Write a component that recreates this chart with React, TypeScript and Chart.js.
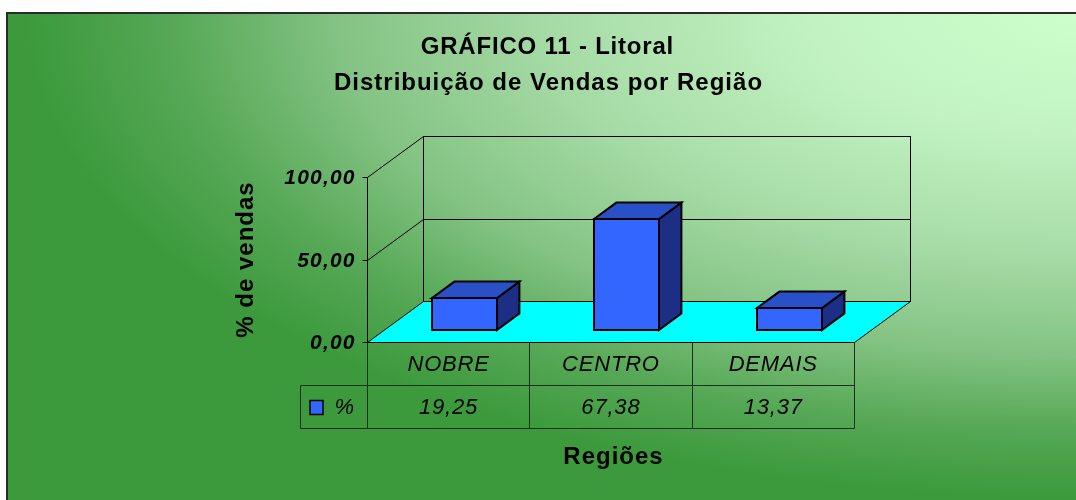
import React, { useEffect, useRef } from 'react';
import { Chart, registerables } from 'chart.js';

Chart.register(...registerables);

// ---- data ----
const titleLines = ['GRÁFICO 11 - Litoral', 'Distribuição de Vendas por Região'];
const categories = ['NOBRE', 'CENTRO', 'DEMAIS'];
const seriesName = '%';
const values = [19.25, 67.38, 13.37];
const yTickValues = [0, 50, 100];
const yTickLabels = ['0,00', '50,00', '100,00'];
const yAxisTitle = '% de vendas';
const xAxisTitle = 'Regiões';

const fmt = (v: number) => v.toFixed(2).replace('.', ',');

// ---- style ----
const FONT = '"Liberation Sans", Arial, sans-serif';
const DX = 56;
const DY = 41;
const BAR_F0 = 0.29;
const BAR_F1 = 0.69;
const BAR_FRONT = '#3366ff';
const BAR_TOP = '#2a50c8';
const BAR_SIDE = '#1c2f85';
const FLOOR = '#00ffff';
const LINE = '#000000';
const TABLE_LINE = '#1f2f1f';

function drawText(ctx: CanvasRenderingContext2D, s: string, x: number, y: number, font: string, align: CanvasTextAlign, spacing: number) {
  ctx.font = font;
  (ctx as any).letterSpacing = spacing + 'px';
  ctx.textAlign = align;
  ctx.textBaseline = 'middle';
  ctx.fillStyle = '#000';
  const off = align === 'center' ? spacing / 2 : align === 'right' ? spacing : 0;
  ctx.fillText(s, x + off, y);
  (ctx as any).letterSpacing = '0px';
}

function line(ctx: CanvasRenderingContext2D, pts: number[][], color: string, w = 1) {
  ctx.beginPath();
  pts.forEach((p, i) => (i === 0 ? ctx.moveTo(p[0], p[1]) : ctx.lineTo(p[0], p[1])));
  ctx.strokeStyle = color;
  ctx.lineWidth = w;
  ctx.stroke();
}

function poly(ctx: CanvasRenderingContext2D, pts: number[][], fill: string, stroke: string, w: number) {
  ctx.beginPath();
  pts.forEach((p, i) => (i === 0 ? ctx.moveTo(p[0], p[1]) : ctx.lineTo(p[0], p[1])));
  ctx.closePath();
  ctx.fillStyle = fill;
  ctx.fill();
  ctx.strokeStyle = stroke;
  ctx.lineWidth = w;
  ctx.lineJoin = 'miter';
  ctx.stroke();
}

const threeDPlugin = {
  id: 'threeD',
  beforeDraw(chart: any) {
    const ctx: CanvasRenderingContext2D = chart.ctx;
    const W = chart.width;
    const H = chart.height;
    ctx.save();
    ctx.fillStyle = '#ffffff';
    ctx.fillRect(0, 0, W, H);

    // gradient background
    ctx.save();
    ctx.beginPath();
    ctx.rect(8, 14, W - 8, H - 14);
    ctx.clip();
    ctx.translate(W, 14);
    ctx.scale(1, 0.46);
    const g = ctx.createRadialGradient(0, 0, 0, 0, 0, 1050);
    g.addColorStop(0, '#ccffcc');
    g.addColorStop(0.25, '#c2f2c2');
    g.addColorStop(0.5, '#a6dba6');
    g.addColorStop(0.7, '#84c384');
    g.addColorStop(0.86, '#56a856');
    g.addColorStop(1, '#3c9a3c');
    ctx.fillStyle = g;
    ctx.fillRect(-W - 10, -10, W + 20, H / 0.46 + 20);
    ctx.restore();

    // frame
    ctx.fillStyle = '#2a2a2a';
    ctx.fillRect(6, 12, W - 6, 2);
    ctx.fillRect(6, 12, 2, H - 12);

    const area = chart.chartArea;
    const ys = chart.scales.y;
    const L = Math.round(area.left) + 0.5;
    const R = Math.round(area.right) + 0.5;
    const y0 = Math.round(ys.getPixelForValue(0)) + 0.5;
    const yTop = Math.round(ys.getPixelForValue(100)) + 0.5;

    // back wall
    line(ctx, [[L + DX, y0 - DY], [L + DX, yTop - DY], [R + DX, yTop - DY], [R + DX, y0 - DY]], LINE);
    // grid lines (left wall + back wall)
    yTickValues.forEach((v) => {
      if (v === 0) return;
      const yy = Math.round(ys.getPixelForValue(v)) + 0.5;
      line(ctx, [[L, yy], [L + DX, yy - DY], [R + DX, yy - DY]], LINE);
    });
    // front axis + ticks
    line(ctx, [[L, yTop], [L, y0]], LINE);
    yTickValues.forEach((v) => {
      const yy = Math.round(ys.getPixelForValue(v)) + 0.5;
      line(ctx, [[L - 5, yy], [L, yy]], LINE);
    });
    // floor
    poly(ctx, [[L, y0], [L + DX, y0 - DY], [R + DX, y0 - DY], [R, y0]], FLOOR, LINE, 1);
    ctx.restore();
  },
  afterDatasetsDraw(chart: any) {
    const ctx: CanvasRenderingContext2D = chart.ctx;
    ctx.save();
    const meta = chart.getDatasetMeta(0);
    const ddx = (BAR_F1 - BAR_F0) * DX;
    const ddy = (BAR_F1 - BAR_F0) * DY;
    meta.data.forEach((el: any) => {
      const { x, y, base, width } = el.getProps(['x', 'y', 'base', 'width'], true);
      const x0 = Math.round(x - width / 2 + BAR_F0 * DX);
      const x1 = Math.round(x + width / 2 + BAR_F0 * DX);
      const yT = Math.round(y - BAR_F0 * DY);
      const yB = Math.round(base - BAR_F0 * DY);
      poly(ctx, [[x1, yT], [x1 + ddx, yT - ddy], [x1 + ddx, yB - ddy], [x1, yB]], BAR_SIDE, LINE, 2);
      poly(ctx, [[x0, yT], [x0 + ddx, yT - ddy], [x1 + ddx, yT - ddy], [x1, yT]], BAR_TOP, LINE, 2);
      poly(ctx, [[x0, yT], [x1, yT], [x1, yB], [x0, yB]], BAR_FRONT, LINE, 2);
    });
    ctx.restore();
  },
  afterDraw(chart: any) {
    const ctx: CanvasRenderingContext2D = chart.ctx;
    ctx.save();
    const area = chart.chartArea;
    const ys = chart.scales.y;
    const xs = chart.scales.x;
    const L = Math.round(area.left) + 0.5;
    const R = Math.round(area.right) + 0.5;
    const y0 = Math.round(ys.getPixelForValue(0)) + 0.5;
    const rowH = 43;
    const r1 = y0 + rowH;
    const r2 = r1 + rowH;
    const legL = L - 67;
    const catW = (xs.right - xs.left) / categories.length;

    // table lines
    line(ctx, [[legL, r1], [R, r1]], TABLE_LINE);
    line(ctx, [[legL, r2], [R, r2]], TABLE_LINE);
    line(ctx, [[legL, r1], [legL, r2]], TABLE_LINE);
    for (let i = 0; i <= categories.length; i++) {
      const xx = Math.round(xs.left + i * catW) + 0.5;
      line(ctx, [[xx, y0], [xx, r2]], TABLE_LINE);
    }
    // table text
    categories.forEach((c, i) => {
      const cx = xs.getPixelForTick(i);
      drawText(ctx, c, cx, (y0 + r1) / 2 + 1, `italic 22px ${FONT}`, 'center', 0.8);
      drawText(ctx, fmt(values[i]), cx, (r1 + r2) / 2 + 1, `italic 22px ${FONT}`, 'center', 0.8);
    });
    // legend key
    const ky = Math.round((r1 + r2) / 2 - 7) + 0.5;
    ctx.fillStyle = BAR_FRONT;
    ctx.fillRect(legL + 9.5, ky, 13, 14);
    ctx.strokeStyle = LINE;
    ctx.lineWidth = 1.5;
    ctx.strokeRect(legL + 9.5, ky, 13, 14);
    drawText(ctx, seriesName, legL + 34, (r1 + r2) / 2 + 1, `italic 22px ${FONT}`, 'left', 0.5);

    // y tick labels
    yTickValues.forEach((v, i) => {
      const yy = ys.getPixelForValue(v) + 1.5;
      drawText(ctx, yTickLabels[i], L - 13, yy, `italic bold 21px ${FONT}`, 'right', 1.2);
    });

    // titles
    drawText(ctx, titleLines[0], 547, 47, `bold 24px ${FONT}`, 'center', 0.8);
    drawText(ctx, titleLines[1], 548, 83, `bold 24px ${FONT}`, 'center', 1);

    // axis titles
    drawText(ctx, xAxisTitle, 613, 457, `bold 24px ${FONT}`, 'center', 1);
    ctx.save();
    ctx.translate(246, 260);
    ctx.rotate(-Math.PI / 2);
    drawText(ctx, yAxisTitle, 0, 0, `bold 24px ${FONT}`, 'center', 1);
    ctx.restore();
    ctx.restore();
  },
};

export default function App() {
  const ref = useRef<HTMLCanvasElement | null>(null);
  useEffect(() => {
    if (!ref.current) return;
    const chart = new Chart(ref.current, {
      type: 'bar',
      data: {
        labels: categories,
        datasets: [
          {
            label: seriesName,
            data: values,
            backgroundColor: 'rgba(0,0,0,0)',
            borderWidth: 0,
            barPercentage: 0.4,
            categoryPercentage: 1,
          },
        ],
      },
      options: {
        responsive: false,
        animation: false,
        events: [],
        layout: { padding: { left: 367, right: 222, top: 177, bottom: 158 } },
        plugins: {
          legend: { display: false },
          title: { display: false },
          tooltip: { enabled: false },
        },
        scales: {
          x: { display: false },
          y: { display: false, min: 0, max: 100 },
        },
      },
      plugins: [threeDPlugin],
    });
    return () => chart.destroy();
  }, []);
  return (
    <div style={{ position: 'fixed', left: 0, top: 0, width: 1076, height: 500 }}>
      <canvas ref={ref} width={1076} height={500} style={{ display: 'block', width: 1076, height: 500 }} />
    </div>
  );
}
